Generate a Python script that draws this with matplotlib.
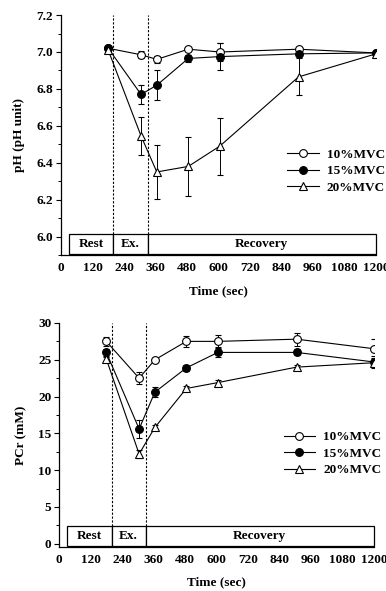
import matplotlib
matplotlib.use("Agg")
import matplotlib.pyplot as plt
from matplotlib.patches import Rectangle
from matplotlib.lines import Line2D
from matplotlib.ticker import MultipleLocator

plt.rcParams['font.family'] = ['Liberation Serif', 'DejaVu Serif']
plt.rcParams['font.weight'] = 'bold'

time = [180, 305, 365, 485, 605, 905, 1200]
labels = ['10%MVC', '15%MVC', '20%MVC']

ph_10 = [7.02, 6.985, 6.96, 7.015, 7.0, 7.015, 6.995]
ph_10_err = [0.01, 0.02, 0.02, 0.01, 0.05, 0.01, 0.01]
ph_15 = [7.02, 6.77, 6.82, 6.965, 6.975, 6.99, 6.995]
ph_15_err = [0.01, 0.05, 0.08, 0.02, 0.075, 0.01, 0.01]
ph_20 = [7.01, 6.545, 6.35, 6.38, 6.49, 6.865, 6.99]
ph_20_err = [0.01, 0.105, 0.145, 0.16, 0.155, 0.1, 0.01]

pcr_10 = [27.5, 22.5, 25.0, 27.5, 27.5, 27.8, 26.5]
pcr_10_err = [0.6, 0.8, 0.3, 0.7, 0.8, 0.9, 1.3]
pcr_15 = [26.0, 15.6, 20.6, 23.9, 26.0, 26.0, 24.7]
pcr_15_err = [0.5, 1.2, 0.7, 0.4, 0.6, 0.4, 0.8]
pcr_20 = [25.1, 12.2, 15.8, 21.1, 21.9, 24.0, 24.6]
pcr_20_err = [0.3, 0.5, 0.3, 0.3, 0.3, 0.3, 0.4]

phases = ['Rest', 'Ex.', 'Recovery']
phase_edges = [30, 200, 330, 1200]
xticks = [0, 120, 240, 360, 480, 600, 720, 840, 960, 1080, 1200]

FS = 9.5

fig = plt.figure(figsize=(3.86, 5.91), dpi=100)
ax1 = fig.add_axes([0.158, 0.5685, 0.816, 0.406])
ax2 = fig.add_axes([0.153, 0.075, 0.816, 0.3785])

styles = [dict(marker='o', mfc='white', ms=5.6), dict(marker='o', mfc='black', ms=5.6),
          dict(marker='^', mfc='white', ms=6.2)]


def draw(ax, series, errs, ylim, box, major, minor, ylabel):
    handles = []
    for (vals, err, st, lab) in zip(series, errs, styles, labels):
        ax.errorbar(time, vals, yerr=err, color='black', lw=0.8, elinewidth=0.7,
                    capsize=2.2, capthick=0.7, marker=st['marker'], mfc=st['mfc'],
                    markersize=st['ms'], mec='black', mew=0.8, zorder=3)
        handles.append(Line2D([], [], color='black', lw=0.8, marker=st['marker'],
                              mfc=st['mfc'], mec='black', mew=0.8, markersize=st['ms'],
                              label=lab))
    ax.set_xlim(0, 1200)
    ax.set_ylim(*ylim)
    ax.set_xticks(xticks)
    ax.xaxis.set_minor_locator(MultipleLocator(60))
    ax.yaxis.set_major_locator(MultipleLocator(major))
    ax.yaxis.set_minor_locator(MultipleLocator(minor))
    ax.spines['top'].set_visible(False)
    ax.spines['right'].set_visible(False)
    ax.spines['left'].set_linewidth(0.9)
    ax.spines['bottom'].set_linewidth(0.9)
    ax.tick_params(axis='y', which='major', direction='out', length=3.5, width=0.8,
                   labelsize=FS, pad=2)
    ax.tick_params(axis='y', which='minor', direction='out', length=2, width=0.7)
    ax.tick_params(axis='x', which='major', direction='in', length=3, width=0.7,
                   labelsize=FS, pad=5)
    ax.tick_params(axis='x', which='minor', direction='in', length=2, width=0.6)
    for t in ax.get_yticklabels() + ax.get_xticklabels():
        t.set_fontweight('bold')
    b0, b1 = box
    for i, name in enumerate(phases):
        x0, x1 = phase_edges[i], phase_edges[i + 1]
        ax.add_patch(Rectangle((x0, b0), x1 - x0, b1 - b0, facecolor='white',
                               edgecolor='black', lw=0.9, zorder=4, clip_on=False))
        ax.text((x0 + x1) / 2, (b0 + b1) / 2, name, ha='center', va='center',
                fontsize=FS, fontweight='bold', zorder=5)
    for xv in phase_edges[1:3]:
        ax.plot([xv, xv], [b1, ylim[1]], color='black', lw=0.8, ls=(0, (2, 1.5)), zorder=2)
    ax.set_xlabel('Time (sec)', fontsize=FS, fontweight='bold', labelpad=8)
    ax.set_ylabel(ylabel, fontsize=FS, fontweight='bold', labelpad=8)
    return handles


h1 = draw(ax1, [ph_10, ph_15, ph_20], [ph_10_err, ph_15_err, ph_20_err], (5.9, 7.2),
          (5.905, 6.015), 0.2, 0.1, 'pH (pH unit)')
h2 = draw(ax2, [pcr_10, pcr_15, pcr_20], [pcr_10_err, pcr_15_err, pcr_20_err], (-0.4, 30),
          (-0.35, 2.4), 5, 2.5, 'PCr (mM)')

for ax, h, anchor in [(ax1, h1, (1.045, 0.465)), (ax2, h2, (1.04, 0.54))]:
    leg = ax.legend(handles=h, loc='upper right', bbox_to_anchor=anchor, frameon=False,
                    fontsize=FS, handlelength=2.4, handletextpad=0.6,
                    labelspacing=0.32, borderaxespad=0)
    for t in leg.get_texts():
        t.set_fontweight('bold')

fig.savefig('out.png', dpi=100)
